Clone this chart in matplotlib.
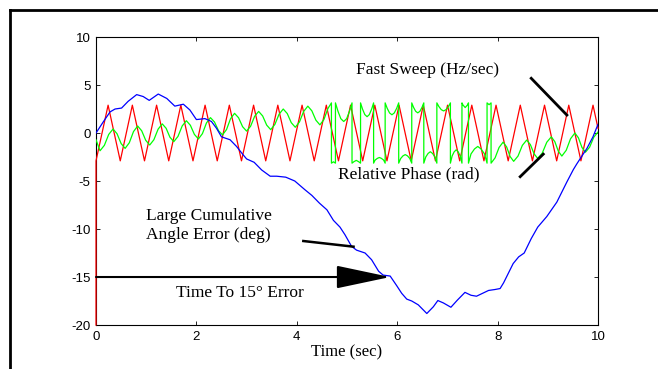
import matplotlib
matplotlib.use("Agg")
import matplotlib.pyplot as plt
from matplotlib.lines import Line2D

plt.rcParams["axes.unicode_minus"] = False

# fast sweep, triangle wave vertices (red)
sweep_t = [0.0, 0.0, 0.241, 0.483, 0.724, 0.966, 1.207, 1.449, 1.690, 1.932, 2.173,
           2.415, 2.656, 2.898, 3.139, 3.381, 3.622, 3.864, 4.105, 4.347, 4.588,
           4.830, 5.071, 5.313, 5.554, 5.796, 6.037, 6.279, 6.520, 6.762, 7.003,
           7.245, 7.486, 7.728, 7.969, 8.211, 8.452, 8.694, 8.935, 9.177, 9.418,
           9.660, 9.901, 10.0]
sweep_v = [-20.0, -2.9, 2.9, -2.9, 2.9, -2.9, 2.9, -2.9, 2.9, -2.9, 2.9,
           -2.9, 2.9, -2.9, 2.9, -2.9, 2.9, -2.9, 2.9, -2.9, 2.9,
           -2.9, 2.9, -2.9, 2.9, -2.9, 2.9, -2.9, 2.9, -2.9, 2.9,
           -2.9, 2.9, -2.9, 2.9, -2.9, 2.9, -2.9, 2.9, -2.9, 2.9,
           -2.9, 2.9, 0.5]

# relative phase (green), wraps at +/- pi between ~4.7 and ~7.9 s
phase_t = [0.00, 0.08, 0.167, 0.253, 0.34, 0.42, 0.50, 0.58, 0.663, 0.747, 0.83,
           0.91, 0.99, 1.07, 1.153, 1.237, 1.32, 1.397, 1.473, 1.55, 1.633, 1.717,
           1.80, 1.88, 1.96, 2.04, 2.12, 2.20, 2.28, 2.36, 2.44, 2.52, 2.60, 2.68,
           2.76, 2.84, 2.92, 3.00, 3.08, 3.16, 3.24, 3.32, 3.40, 3.48, 3.563, 3.647,
           3.73, 3.81, 3.89, 3.97, 4.053, 4.137, 4.22, 4.30, 4.38, 4.46, 4.54, 4.62,
           4.69, 4.69, 4.73, 4.77, 4.77,
           4.82, 4.877, 4.935, 4.993, 5.05, 5.10, 5.10,
           5.14, 5.185, 5.23, 5.27, 5.27,
           5.309, 5.355, 5.40, 5.445, 5.491, 5.53, 5.53,
           5.56, 5.605, 5.645, 5.685, 5.73, 5.76, 5.76,
           5.80, 5.848, 5.895, 5.942, 5.99, 6.03, 6.03,
           6.07, 6.115, 6.16, 6.205, 6.25, 6.29, 6.29,
           6.326, 6.368, 6.41, 6.452, 6.494, 6.53, 6.53,
           6.57, 6.615, 6.66, 6.705, 6.75, 6.79, 6.79,
           6.83, 6.878, 6.925, 6.972, 7.02, 7.06, 7.06,
           7.095, 7.135, 7.175, 7.215, 7.255, 7.29, 7.29,
           7.31, 7.355, 7.40, 7.42, 7.42,
           7.47, 7.54, 7.605, 7.67, 7.74, 7.79, 7.79,
           7.83, 7.87, 7.87,
           7.95, 8.03, 8.11, 8.18, 8.25, 8.32, 8.407, 8.493, 8.58, 8.653, 8.727,
           8.80, 8.89, 8.98, 9.07, 9.14, 9.21, 9.28, 9.367, 9.453, 9.54, 9.61,
           9.68, 9.75, 9.833, 9.917, 10.0]
phase_v = [-0.7, -1.85, -1.28, -0.15, 0.42, -0.085, -1.095, -1.6, -1.02, 0.15, 0.73,
           0.235, -0.755, -1.25, -0.70, 0.40, 0.95, 0.49, -0.44, -0.9, -0.355, 0.735,
           1.28, 0.805, -0.145, -0.62, -0.065, 1.045, 1.6, 1.15, 0.25, -0.2, 0.36, 1.49,
           2.05, 1.59, 0.66, 0.2, 0.71, 1.74, 2.25, 1.775, 0.825, 0.35, 0.89, 1.96,
           2.5, 2.025, 1.075, 0.6, 1.15, 2.25, 2.8, 2.31, 1.34, 0.85, 1.4, 2.55,
           3.14, -3.14, -3.0, -3.14, 3.14,
           2.27, 1.49, 1.2, 1.49, 2.27, 3.14, -3.14,
           -2.98, -2.85, -2.98, -3.14, 3.14,
           2.49, 1.92, 1.7, 1.92, 2.49, 3.14, -3.14,
           -2.82, -2.64, -2.55, -2.64, -2.82, -3.14, 3.14,
           2.58, 2.09, 1.9, 2.09, 2.58, 3.14, -3.14,
           -2.65, -2.38, -2.25, -2.38, -2.65, -3.14, 3.14,
           2.67, 2.26, 2.1, 2.26, 2.67, 3.14, -3.14,
           -2.49, -2.13, -1.95, -2.13, -2.49, -3.14, 3.14,
           2.76, 2.43, 2.3, 2.43, 2.76, 3.14, -3.14,
           -2.38, -1.96, -1.75, -1.96, -2.38, -3.14, 3.14,
           2.92, 2.65, 2.92, 3.14, -3.14,
           -2.18, -1.66, -1.4, -1.66, -2.18, -3.14, 3.14,
           2.95, 3.14, -3.14,
           -2.59, -1.5, -0.95, -1.45, -2.45, -2.95, -2.4, -1.29, -0.73, -1.21, -2.17,
           -2.65, -2.09, -0.96, -0.4, -0.9, -1.9, -2.4, -1.8, -0.6, 0.0, -0.5,
           -1.5, -2.0, -1.48, -0.43, 0.1]

# cumulative angle error in degrees (blue)
error_t = [0.00, 0.15, 0.28, 0.38, 0.51, 0.64, 0.81, 0.94, 1.06, 1.24, 1.41, 1.57,
           1.74, 1.87, 2.00, 2.17, 2.30, 2.40, 2.50, 2.67, 2.80, 2.92, 3.00, 3.15,
           3.30, 3.47, 3.60, 3.78, 3.96, 4.16, 4.30, 4.45, 4.60, 4.73, 4.86, 4.96,
           5.09, 5.19, 5.36, 5.49, 5.63, 5.72, 5.86, 5.99, 6.09, 6.19, 6.29, 6.42,
           6.59, 6.72, 6.81, 6.92, 7.07, 7.20, 7.35, 7.47, 7.58, 7.70, 7.82, 7.95,
           8.05, 8.12, 8.31, 8.42, 8.53, 8.67, 8.80, 8.98, 9.10, 9.18, 9.38, 9.51,
           9.58, 9.78, 9.90, 10.0]
error_v = [0.0, 1.2, 2.2, 2.5, 2.6, 3.3, 4.0, 3.8, 3.4, 4.06, 3.6, 2.8,
           3.0, 2.4, 1.4, 1.5, 1.2, 0.5, -0.4, -0.7, -1.4, -2.2, -2.7, -3.05,
           -3.85, -4.5, -4.5, -4.6, -5.0, -5.9, -6.5, -7.3, -8.0, -9.1, -9.8, -10.6,
           -11.8, -12.2, -12.5, -13.2, -14.4, -14.8, -14.9, -15.9, -16.7, -17.3, -17.5, -17.9,
           -18.8, -18.1, -17.45, -17.7, -18.15, -17.4, -16.6, -16.9, -17.0, -16.7, -16.4, -16.3,
           -16.2, -15.6, -13.6, -12.9, -12.5, -11.0, -9.8, -8.7, -7.8, -7.2, -5.1, -3.8,
           -3.2, -1.6, -0.4, 0.9]

x_ticks = [0, 2, 4, 6, 8, 10]
y_ticks = [-20, -15, -10, -5, 0, 5, 10]

serif = "Liberation Serif"

fig = plt.figure(figsize=(6.58, 3.69), dpi=100)
ax = fig.add_axes([0.1459, 0.1192, 0.7629, 0.7805])

ax.plot(sweep_t, sweep_v, color="#ff0000", lw=0.9, zorder=3, clip_on=False)
ax.plot(phase_t, phase_v, color="#00ff00", lw=0.9, zorder=3)
ax.plot(error_t, error_v, color="#0000ff", lw=0.9, zorder=3)

ax.set_xlim(0, 10)
ax.set_ylim(-20, 10)
ax.set_xticks(x_ticks)
ax.set_yticks(y_ticks)
ax.tick_params(direction="in", top=True, right=True, length=3, width=0.6,
               labelsize=9.5, pad=4)
for lab in ax.get_xticklabels() + ax.get_yticklabels():
    lab.set_family("Liberation Sans")
for sp in ax.spines.values():
    sp.set_linewidth(0.8)

ax.set_xlabel("Time (sec)", family=serif, fontsize=12, labelpad=1)

# annotations
ax.text(6.61, 6.56, "Fast Sweep (Hz/sec)", family=serif, fontsize=12.5,
        ha="center", va="center")
ax.plot([8.67, 9.38], [5.7, 1.87], color="k", lw=2, zorder=4)

ax.text(6.24, -4.27, "Relative Phase (rad)", family=serif, fontsize=12.5,
        ha="center", va="center")
ax.plot([8.45, 8.91], [-4.55, -2.2], color="k", lw=2, zorder=4)

ax.text(2.25, -9.67, "Large Cumulative\nAngle Error (deg)", family=serif,
        fontsize=12.5, ha="center", va="center", multialignment="left",
        linespacing=1.25)
ax.plot([4.13, 5.13], [-11.25, -11.84], color="k", lw=1.8, zorder=4)

ax.annotate("", xy=(5.86, -15), xytext=(0, -15),
            arrowprops=dict(arrowstyle="-|>,head_length=3.4,head_width=0.72",
                            mutation_scale=10, color="k", lw=1.5,
                            shrinkA=0, shrinkB=0), zorder=4)
ax.text(2.87, -16.67, "Time To 15° Error", family=serif, fontsize=12.5,
        ha="center", va="center")

# frame around the figure (only top and left edges show)
fig.add_artist(Line2D([0.0152, 1.0], [0.973, 0.973], transform=fig.transFigure,
                      color="k", lw=2))
fig.add_artist(Line2D([0.0152, 0.0152], [0.0, 0.973], transform=fig.transFigure,
                      color="k", lw=2))

fig.savefig("out.png", dpi=100)
